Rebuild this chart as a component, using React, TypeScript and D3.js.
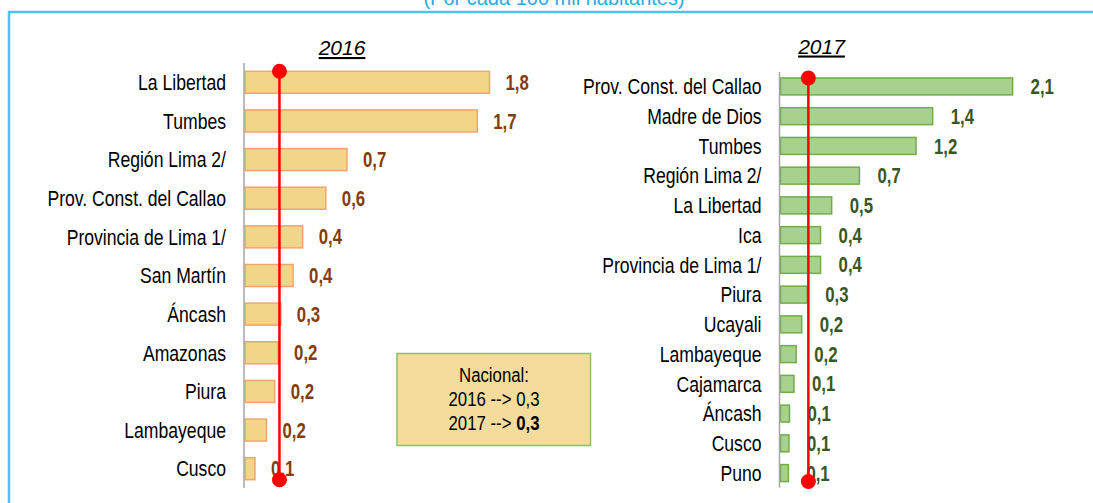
import React, { useEffect, useRef } from 'react'
import * as d3 from 'd3'

// 2016 panel
const regions2016 = [
  'La Libertad', 'Tumbes', 'Región Lima 2/', 'Prov. Const. del Callao', 'Provincia de Lima 1/',
  'San Martín', 'Áncash', 'Amazonas', 'Piura', 'Lambayeque', 'Cusco',
]
const values2016 = [1.8, 1.71, 0.755, 0.6, 0.43, 0.36, 0.27, 0.25, 0.225, 0.165, 0.08]
const labels2016 = ['1,8', '1,7', '0,7', '0,6', '0,4', '0,4', '0,3', '0,2', '0,2', '0,2', '0,1']

// 2017 panel
const regions2017 = [
  'Prov. Const. del Callao', 'Madre de Dios', 'Tumbes', 'Región Lima 2/', 'La Libertad', 'Ica',
  'Provincia de Lima 1/', 'Piura', 'Ucayali', 'Lambayeque', 'Cajamarca', 'Áncash', 'Cusco', 'Puno',
]
const values2017 = [2.1, 1.38, 1.23, 0.72, 0.47, 0.37, 0.37, 0.25, 0.2, 0.15, 0.13, 0.09, 0.085, 0.08]
const labels2017 = ['2,1', '1,4', '1,2', '0,7', '0,5', '0,4', '0,4', '0,3', '0,2', '0,2', '0,1', '0,1', '0,1', '0,1']

// national rate (red reference line)
const nacional = 0.26
const nacionalText = ['Nacional:', '2016 --> 0,3', '2017 --> ']
const nacionalBold = '0,3'

// no narrow face installed, so squeeze Liberation Sans instead
const FONT = "'Liberation Sans', Arial, sans-serif"
const narrow = (x: number, y: number, s = 0.8) => `translate(${x},${y}) scale(${s},1)`

type Panel = {
  title: string
  regions: string[]
  values: number[]
  labels: string[]
  axisX: number
  pxPerUnit: number
  yRange: [number, number]
  padOuter: number
  fill: string
  stroke: string
  labelColor: string
  labelGap: number
  titleX: number
  titleY: number
}

const drawPanel = (svg: d3.Selection<SVGSVGElement, unknown, null, undefined>, p: Panel) => {
  const x = d3.scaleLinear().domain([0, 1]).range([p.axisX, p.axisX + p.pxPerUnit])
  const y = d3.scaleBand().domain(p.regions).range(p.yRange).paddingInner(0.43).paddingOuter(p.padOuter)
  const g = svg.append('g')

  g.append('text')
    .attr('x', p.titleX)
    .attr('y', p.titleY)
    .attr('text-anchor', 'middle')
    .attr('font-family', FONT)
    .attr('font-style', 'italic')
    .attr('font-size', 21)
    .attr('text-decoration', 'underline')
    .attr('fill', '#000')
    .text(p.title)

  g.selectAll('.bar')
    .data(p.values)
    .enter()
    .append('rect')
    .attr('x', x(0) + 1)
    .attr('y', (_, i) => y(p.regions[i])!)
    .attr('width', (d) => x(d) - x(0) - 1)
    .attr('height', y.bandwidth())
    .attr('fill', p.fill)
    .attr('stroke', p.stroke)
    .attr('stroke-width', 1.5)

  g.append('line')
    .attr('x1', p.axisX)
    .attr('x2', p.axisX)
    .attr('y1', p.yRange[0])
    .attr('y2', p.yRange[1])
    .attr('stroke', '#a6a6a6')
    .attr('stroke-width', 1.5)

  g.selectAll('.cat')
    .data(p.regions)
    .enter()
    .append('text')
    .attr('transform', (d) => narrow(p.axisX - 18, y(d)! + y.bandwidth() / 2 + 7.8))
    .attr('text-anchor', 'end')
    .attr('font-family', FONT)
    .attr('font-size', 22)
    .attr('fill', '#000')
    .text((d) => d)

  g.selectAll('.val')
    .data(p.values)
    .enter()
    .append('text')
    .attr('transform', (d, i) => narrow(x(d) + p.labelGap, y(p.regions[i])! + y.bandwidth() / 2 + 7.6, 0.78))
    .attr('font-family', FONT)
    .attr('font-weight', 'bold')
    .attr('font-size', 21.5)
    .attr('fill', p.labelColor)
    .text((_, i) => p.labels[i])

  const top = y(p.regions[0])!
  const bottom = y(p.regions[p.regions.length - 1])! + y.bandwidth()
  g.append('line')
    .attr('x1', x(nacional))
    .attr('x2', x(nacional))
    .attr('y1', top)
    .attr('y2', bottom)
    .attr('stroke', '#ff0000')
    .attr('stroke-width', 2.5)
  g.selectAll('.dot')
    .data([top, bottom])
    .enter()
    .append('circle')
    .attr('cx', x(nacional))
    .attr('cy', (d) => d)
    .attr('r', 7.5)
    .attr('fill', '#ff0000')
}

const App: React.FC = () => {
  const svgRef = useRef<SVGSVGElement | null>(null)

  useEffect(() => {
    const svg = d3.select(svgRef.current!)
    svg.selectAll('*').remove()

    svg.append('rect')
      .attr('x', 9)
      .attr('y', 12)
      .attr('width', 1300)
      .attr('height', 700)
      .attr('fill', 'none')
      .attr('stroke', '#4fc3f0')
      .attr('stroke-width', 2.5)

    // subtitle, cut by the top edge as in the source
    svg.append('text')
      .attr('x', 554)
      .attr('y', 5)
      .attr('text-anchor', 'middle')
      .attr('font-family', FONT)
      .attr('font-size', 20)
      .attr('fill', '#29abe2')
      .text('(Por cada 100 mil habitantes)')

    drawPanel(svg, {
      title: '2016', regions: regions2016, values: values2016, labels: labels2016,
      axisX: 244, pxPerUnit: 136.4, yRange: [63, 488], padOuter: 0.215,
      fill: '#f1d58b', stroke: '#f2a46b', labelColor: '#843c0c', labelGap: 16,
      titleX: 342, titleY: 55,
    })
    drawPanel(svg, {
      title: '2017', regions: regions2017, values: values2017, labels: labels2017,
      axisX: 779.5, pxPerUnit: 111, yRange: [72, 487.5], padOuter: 0.2,
      fill: '#a9d18e', stroke: '#70ad47', labelColor: '#385723', labelGap: 18,
      titleX: 821.5, titleY: 53.5,
    })

    // national box
    const box = svg.append('g')
    box.append('rect')
      .attr('x', 397)
      .attr('y', 353.5)
      .attr('width', 193.5)
      .attr('height', 92)
      .attr('fill', '#f5dc9d')
      .attr('stroke', '#8cc063')
      .attr('stroke-width', 1.5)
    const t = box.selectAll('.nl')
      .data(nacionalText)
      .enter()
      .append('text')
      .attr('transform', (_, i) => narrow(494, 382 + i * 24))
      .attr('text-anchor', 'middle')
      .attr('font-family', FONT)
      .attr('font-size', 21)
      .attr('fill', '#000')
      .text((d) => d)
    t.filter((_, i) => i === 2)
      .append('tspan')
      .attr('font-weight', 'bold')
      .text(nacionalBold)
  }, [])

  return (
    <div style={{ position: 'absolute', left: 0, top: 0 }}>
      <svg ref={svgRef} width={1093} height={503} style={{ display: 'block', background: '#fff' }}></svg>
    </div>
  )
}

export default App
